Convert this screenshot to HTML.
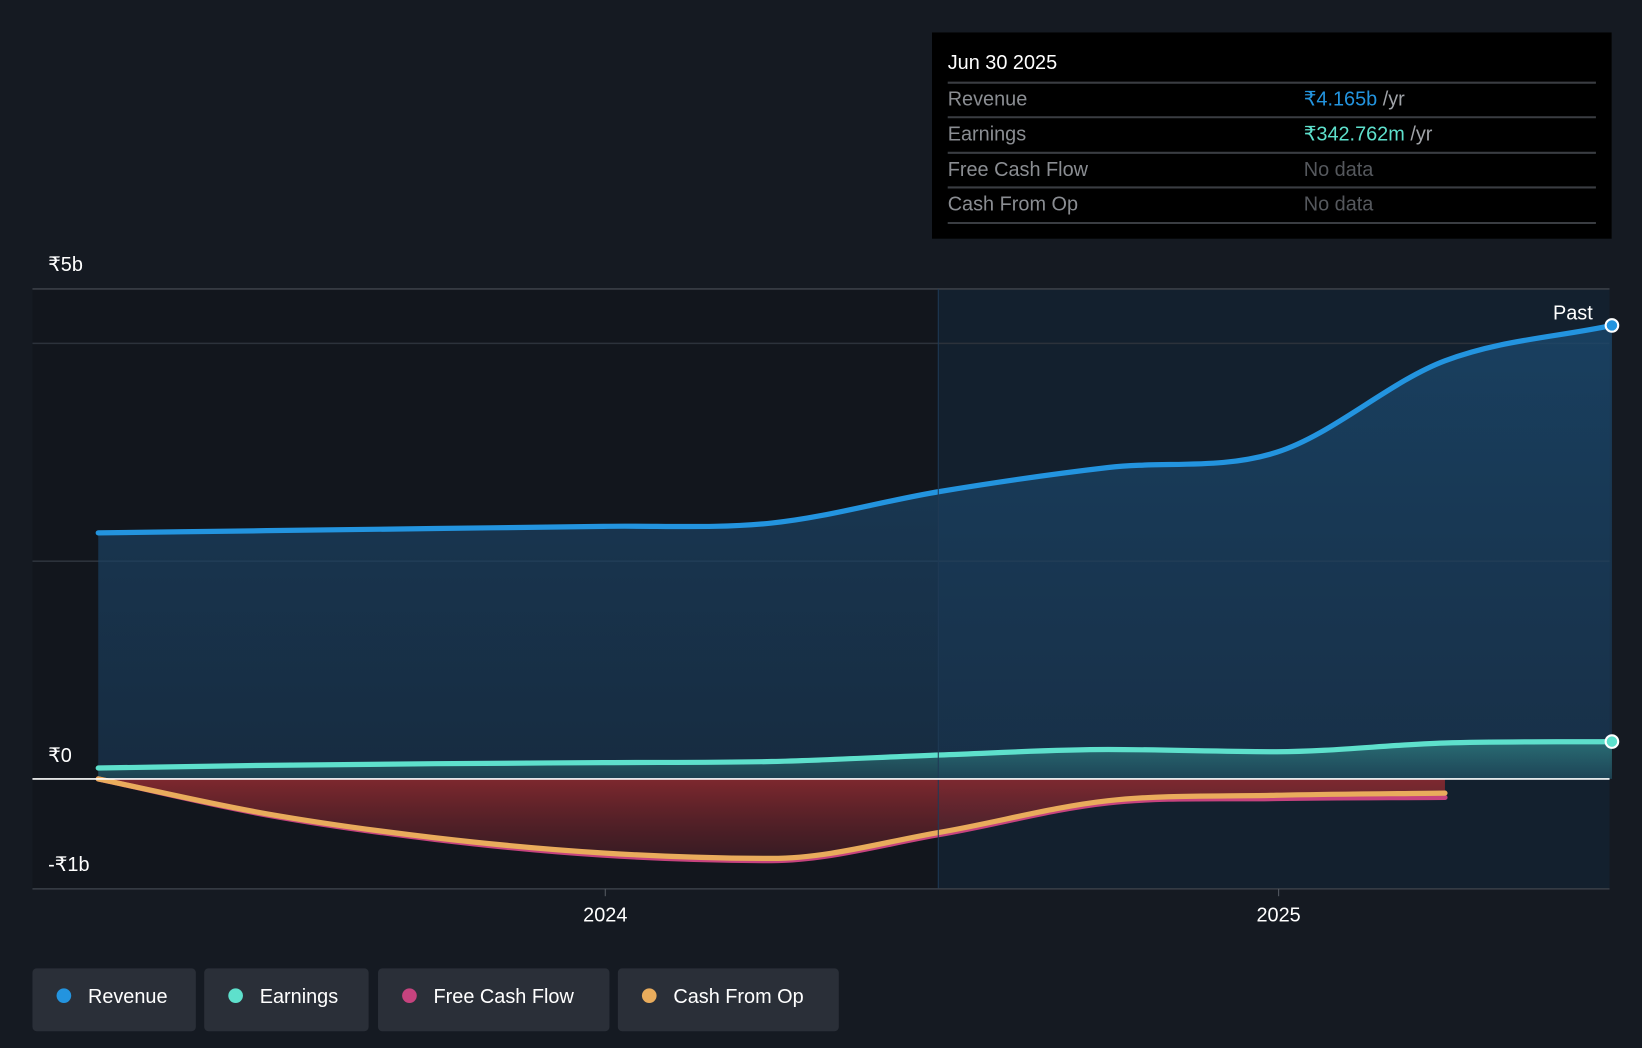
<!DOCTYPE html>
<html><head><meta charset="utf-8"><style>
html,body{margin:0;padding:0;background:#151a22;overflow:hidden}
svg{display:block;font-family:"Liberation Sans","Noto Sans CJK SC",sans-serif}
</style></head><body>
<svg id="chart" width="1642" height="1048" viewBox="0 0 1568 1001" preserveAspectRatio="none" xmlns="http://www.w3.org/2000/svg">
<defs>
<linearGradient id="gRev" x1="0" y1="0" x2="0" y2="1"><stop offset="0" stop-color="#1b4a70" stop-opacity="0.75"/><stop offset="1" stop-color="#1a3a58" stop-opacity="0.6"/></linearGradient>
<linearGradient id="gEarn" x1="0" y1="0" x2="0" y2="1"><stop offset="0" stop-color="#3fb5a8" stop-opacity="0.45"/><stop offset="1" stop-color="#3fb5a8" stop-opacity="0.15"/></linearGradient>
<linearGradient id="gNeg" x1="0" y1="0" x2="0" y2="1"><stop offset="0" stop-color="#8a2a30" stop-opacity="0.9"/><stop offset="1" stop-color="#5a2028" stop-opacity="0.5"/></linearGradient>
</defs>
<rect x="0" y="0" width="1568" height="1001" fill="#151a22"/>
<rect x="31" y="276" width="865" height="573" fill="#12161d"/>
<rect x="896" y="276" width="641" height="573" fill="#13202e"/>
<g id="grid"></g>
<g id="areas"></g>
<g id="lines"></g>
<line x1="896" y1="276" x2="896" y2="849" stroke="#1f3a55" stroke-width="1"/>
<line x1="31" y1="744" x2="1537" y2="744" stroke="#ffffff" stroke-width="1.5"/>
<g id="axes"></g>
<text x="1521" y="305" fill="#fff" font-size="19" text-anchor="end">Past</text>
<g>
<rect x="890" y="31" width="649" height="197" fill="#000"/>
<text x="905" y="66" fill="#fff" font-size="19">Jun 30 2025</text>
<line x1="905" y1="79" x2="1524" y2="79" stroke="#3a3d42" stroke-width="2"/>
<text x="905" y="101" fill="#8a8d92" font-size="19">Revenue</text>
<text x="1245" y="101" font-size="19"><tspan fill="#2394df">₹4.165b</tspan><tspan fill="#a0a3a8"> /yr</tspan></text>
<line x1="905" y1="112" x2="1524" y2="112" stroke="#3a3d42" stroke-width="2"/>
<text x="905" y="134" fill="#8a8d92" font-size="19">Earnings</text>
<text x="1245" y="134" font-size="19"><tspan fill="#5ee0cc">₹342.762m</tspan><tspan fill="#a0a3a8"> /yr</tspan></text>
<line x1="905" y1="146" x2="1524" y2="146" stroke="#3a3d42" stroke-width="2"/>
<text x="905" y="168" fill="#8a8d92" font-size="19">Free Cash Flow</text>
<text x="1245" y="168" fill="#55585d" font-size="19">No data</text>
<line x1="905" y1="179" x2="1524" y2="179" stroke="#3a3d42" stroke-width="2"/>
<text x="905" y="201" fill="#8a8d92" font-size="19">Cash From Op</text>
<text x="1245" y="201" fill="#55585d" font-size="19">No data</text>
<line x1="905" y1="213" x2="1524" y2="213" stroke="#3a3d42" stroke-width="2"/>
</g>
<g>
<g><rect x="31" y="925" width="156" height="60" rx="4" fill="#2a2f38"/><circle cx="61" cy="951" r="7" fill="#2394df"/><text x="84" y="958" fill="#fff" font-size="19">Revenue</text></g>
<g><rect x="195" y="925" width="157" height="60" rx="4" fill="#2a2f38"/><circle cx="225" cy="951" r="7" fill="#5ee0cc"/><text x="248" y="958" fill="#fff" font-size="19">Earnings</text></g>
<g><rect x="361" y="925" width="221" height="60" rx="4" fill="#2a2f38"/><circle cx="391" cy="951" r="7" fill="#c6437e"/><text x="414" y="958" fill="#fff" font-size="19">Free Cash Flow</text></g>
<g><rect x="590" y="925" width="211" height="60" rx="4" fill="#2a2f38"/><circle cx="620" cy="951" r="7" fill="#e9ac5c"/><text x="643" y="958" fill="#fff" font-size="19">Cash From Op</text></g>
</g>
</svg>
<script>
const dates = [2023.247, 2023.497, 2023.747, 2023.997, 2024.247, 2024.497, 2024.747, 2024.997, 2025.247, 2025.495];
const revenue = [2.26, 2.28, 2.30, 2.32, 2.35, 2.64, 2.86, 3.00, 3.84, 4.165];
const earnings = [0.10, 0.125, 0.14, 0.15, 0.16, 0.22, 0.27, 0.25, 0.33, 0.343];
const cashFromOp = [0, -0.32, -0.54, -0.68, -0.73, -0.49, -0.20, -0.15, -0.13];
const freeCashFlow = [0, -0.33, -0.555, -0.70, -0.75, -0.51, -0.22, -0.18, -0.17];
const yTicks = [5, 0, -1];
const yTickLabels = ["₹5b", "₹0", "-₹1b"];
const gridValues = [4, 2];
const xTicks = [2024, 2025];

const NS = "http://www.w3.org/2000/svg";
const X = t => 578 + (t - 2024) * 643;
const Y = v => 744 - v * 104;
function pts(vals){ return vals.map((v,i)=>[X(dates[i]), Y(v)]); }
function mono(p){
  const n=p.length, d=[], m=[];
  for(let i=0;i<n-1;i++) d.push((p[i+1][1]-p[i][1])/(p[i+1][0]-p[i][0]));
  for(let i=0;i<n;i++){
    if(i===0) m.push(d[0]); else if(i===n-1) m.push(d[n-2]);
    else m.push(d[i-1]*d[i]<=0?0:(d[i-1]+d[i])/2);
  }
  let s="M"+p[0][0]+","+p[0][1];
  for(let i=0;i<n-1;i++){
    const h=(p[i+1][0]-p[i][0])/3;
    s+=" C"+(p[i][0]+h)+","+(p[i][1]+m[i]*h)+" "+(p[i+1][0]-h)+","+(p[i+1][1]-m[i+1]*h)+" "+p[i+1][0]+","+p[i+1][1];
  }
  return s;
}
function mk(tag, attrs, parent){
  const e=document.createElementNS(NS,tag);
  for(const k in attrs) e.setAttribute(k, attrs[k]);
  document.getElementById(parent).appendChild(e); return e;
}
// grid
mk("line",{x1:31,x2:1537,y1:276,y2:276,stroke:"#3a3f47","stroke-width":1.5},"grid");
gridValues.forEach(v=>{
  const g=mk("line",{x1:31,x2:1537,y1:Y(v),y2:Y(v),stroke:"#2c323b","stroke-width":1.5},"grid");
  
  
});
const bl=mk("line",{x1:31,x2:1537,y1:849,y2:849,stroke:"#3a3f47","stroke-width":1.5},"axes");


yTicks.forEach((v,i)=>{
  const t=mk("text",{x:46,y:(v===5?259:Y(v)-16),fill:"#fff","font-size":19},"axes");
  t.textContent=yTickLabels[i];
  
  
});
xTicks.forEach(v=>{
  const l=mk("line",{x1:X(v),x2:X(v),y1:849,y2:856,stroke:"#555a62"},"axes");
  
  
  const t=mk("text",{x:X(v),y:880,fill:"#fff","font-size":19,"text-anchor":"middle"},"axes");
  t.textContent=String(v);
  
  
});
function area(vals, fill, name){
  const p=pts(vals);
  const d=mono(p)+" L"+p[p.length-1][0]+","+Y(0)+" L"+p[0][0]+","+Y(0)+" Z";
  const a=mk("path",{d:d,fill:fill},"areas");
  
  
}
area(revenue,"url(#gRev)","revenue-area");
area(earnings,"url(#gEarn)","earnings-area");
area(freeCashFlow,"url(#gNeg)","cash-flow-area");
function line(vals,color,name){
  const l=mk("path",{d:mono(pts(vals)),fill:"none",stroke:color,"stroke-width":5,"stroke-linecap":"round"},"lines");
  
  
}
line(freeCashFlow,"#c6437e","free-cash-flow-line");
line(cashFromOp,"#e9ac5c","cash-from-op-line");
line(earnings,"#5ee0cc","earnings-line");
line(revenue,"#2394df","revenue-line");
[[revenue,"#2394df","revenue-end-dot"],[earnings,"#5ee0cc","earnings-end-dot"]].forEach(([v,c,n])=>{
  const i=v.length-1;
  const d=mk("circle",{cx:X(dates[i]),cy:Y(v[i]),r:6,fill:c,stroke:"#fff","stroke-width":2},"lines");
  
  
});
</script>
</body></html>
